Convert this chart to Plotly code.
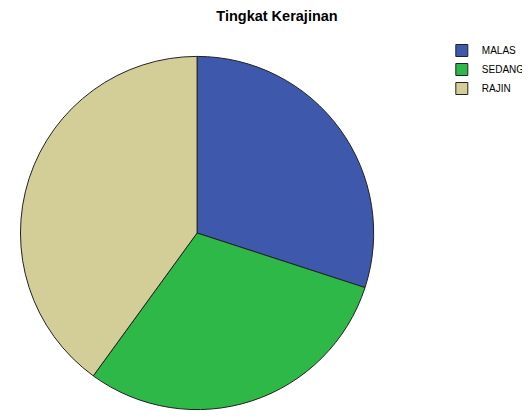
import plotly.graph_objects as go

# the page body adds an 8px margin, so the figure is drawn 8px right and down
OFF = 8
W, H = 530 - OFF, 417 - OFF

categories = ["MALAS", "SEDANG", "RAJIN"]
percent = [30.0, 30.0, 40.0]
colors = ["#3E58AC", "#2EB848", "#D3CE97"]
title_text = "Tingkat Kerajinan"

# pie geometry in screen pixels (center and radius)
cx, cy, r = 205 - OFF, 233 - OFF, 184

fig = go.Figure(
    go.Pie(
        labels=categories,
        values=percent,
        sort=False,
        direction="clockwise",
        rotation=0,
        textinfo="none",
        hoverinfo="label+percent",
        marker=dict(colors=colors, line=dict(color="#222222", width=1)),
        domain=dict(
            x=[(cx - r) / W, (cx + r) / W],
            y=[max(0, 1 - (cy + r) / H), 1 - (cy - r) / H],
        ),
    )
)

fig.update_layout(
    width=W,
    height=H,
    margin=dict(l=0, r=0, t=0, b=0),
    paper_bgcolor="white",
    plot_bgcolor="white",
    font=dict(family="Liberation Sans, Arial, sans-serif", color="#000000"),
    title=dict(
        text="<b>" + title_text + "</b>",
        x=(277 - OFF) / W,
        xanchor="center",
        y=1 - 3 / H,
        yanchor="top",
        pad=dict(t=0, b=0, l=0, r=0),
        font=dict(size=14.5, family="Liberation Sans, Arial, sans-serif", color="#000000"),
    ),
    legend=dict(
        x=(486 - 26 - OFF) / W,
        xanchor="left",
        y=1 - (36 - OFF) / H,
        yanchor="top",
        font=dict(size=10, family="Liberation Sans, Arial, sans-serif", color="#000000"),
        tracegroupgap=0,
        itemwidth=30,
        bgcolor="rgba(0,0,0,0)",
    ),
    showlegend=True,
)

fig.write_html("out.html")
